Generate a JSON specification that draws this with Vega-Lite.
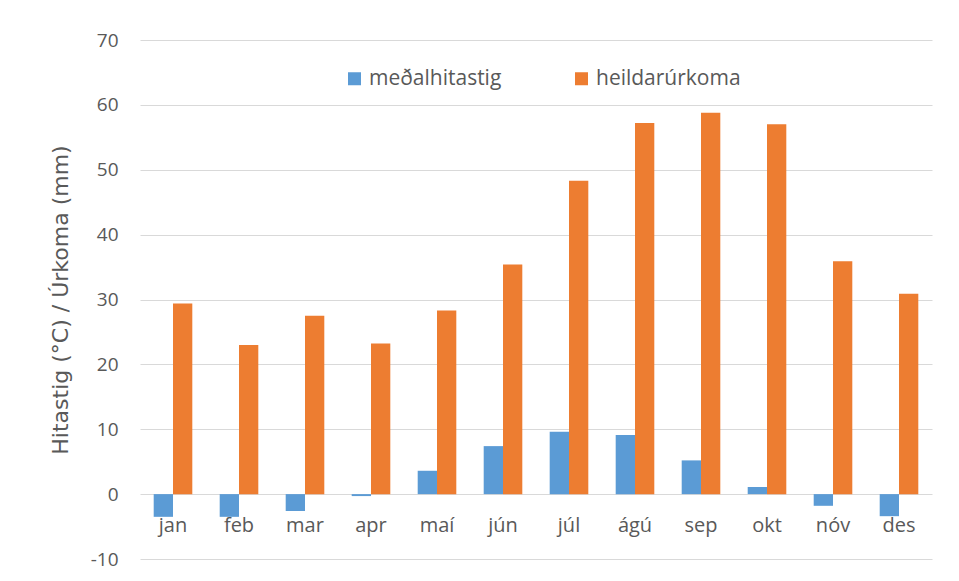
{
  "$schema": "https://vega.github.io/schema/vega-lite/v6.json",
  "width": 792,
  "height": 519,
  "autosize": "none",
  "padding": {"left": 140, "top": 40, "right": 27, "bottom": 22},
  "background": "white",
  "config": {"view": {"stroke": null}, "font": "Open Sans"},
  "data": {
    "values": [
      {"manudur": "jan", "rod": "meðalhitastig", "gildi": -3.5},
      {"manudur": "jan", "rod": "heildarúrkoma", "gildi": 29.4},
      {"manudur": "feb", "rod": "meðalhitastig", "gildi": -3.5},
      {"manudur": "feb", "rod": "heildarúrkoma", "gildi": 23.0},
      {"manudur": "mar", "rod": "meðalhitastig", "gildi": -2.6},
      {"manudur": "mar", "rod": "heildarúrkoma", "gildi": 27.5},
      {"manudur": "apr", "rod": "meðalhitastig", "gildi": -0.3},
      {"manudur": "apr", "rod": "heildarúrkoma", "gildi": 23.2},
      {"manudur": "maí", "rod": "meðalhitastig", "gildi": 3.6},
      {"manudur": "maí", "rod": "heildarúrkoma", "gildi": 28.3},
      {"manudur": "jún", "rod": "meðalhitastig", "gildi": 7.4},
      {"manudur": "jún", "rod": "heildarúrkoma", "gildi": 35.4},
      {"manudur": "júl", "rod": "meðalhitastig", "gildi": 9.6},
      {"manudur": "júl", "rod": "heildarúrkoma", "gildi": 48.3},
      {"manudur": "ágú", "rod": "meðalhitastig", "gildi": 9.1},
      {"manudur": "ágú", "rod": "heildarúrkoma", "gildi": 57.2},
      {"manudur": "sep", "rod": "meðalhitastig", "gildi": 5.2},
      {"manudur": "sep", "rod": "heildarúrkoma", "gildi": 58.8},
      {"manudur": "okt", "rod": "meðalhitastig", "gildi": 1.1},
      {"manudur": "okt", "rod": "heildarúrkoma", "gildi": 57.0},
      {"manudur": "nóv", "rod": "meðalhitastig", "gildi": -1.8},
      {"manudur": "nóv", "rod": "heildarúrkoma", "gildi": 35.9},
      {"manudur": "des", "rod": "meðalhitastig", "gildi": -3.4},
      {"manudur": "des", "rod": "heildarúrkoma", "gildi": 30.9}
    ]
  },
  "mark": {"type": "bar"},
  "encoding": {
    "x": {
      "field": "manudur",
      "type": "nominal",
      "sort": null,
      "scale": {"paddingInner": 0.415, "paddingOuter": 0.2075},
      "axis": {
        "title": null,
        "orient": "bottom",
        "offset": -65,
        "domain": false,
        "ticks": false,
        "grid": false,
        "labelAngle": 0,
        "labelPadding": 21,
        "labelFontSize": 20,
        "labelColor": "#595959",
        "labelFont": "Open Sans"
      }
    },
    "xOffset": {"field": "rod", "type": "nominal", "sort": ["meðalhitastig", "heildarúrkoma"]},
    "y": {
      "field": "gildi",
      "type": "quantitative",
      "scale": {"domain": [-10, 70], "nice": false, "zero": false},
      "axis": {
        "values": [-10, 0, 10, 20, 30, 40, 50, 60, 70],
        "labelExpr": "toString(datum.value)",
        "title": "Hitastig (°C) / Úrkoma (mm)",
        "titleFontSize": 22,
        "titleFont": "DejaVu Sans",
        "titleFontWeight": "normal",
        "titleColor": "#595959",
        "titlePadding": 18,
        "domain": false,
        "ticks": false,
        "labelPadding": 22,
        "labelFontSize": 19,
        "labelColor": "#595959",
        "labelFont": "Open Sans",
        "gridColor": "#d9d9d9",
        "gridWidth": 1
      }
    },
    "color": {
      "field": "rod",
      "type": "nominal",
      "scale": {"domain": ["meðalhitastig", "heildarúrkoma"], "range": ["#5b9bd5", "#ed7d31"]},
      "legend": {
        "title": null,
        "orient": "none",
        "legendX": 204,
        "legendY": 28,
        "direction": "horizontal",
        "symbolType": "square",
        "symbolSize": 169,
        "symbolStrokeWidth": 0,
        "labelFontSize": 21,
        "labelFont": "Open Sans",
        "labelColor": "#595959",
        "labelOffset": 4,
        "labelLimit": 400,
        "columnPadding": 69
      }
    }
  }
}
